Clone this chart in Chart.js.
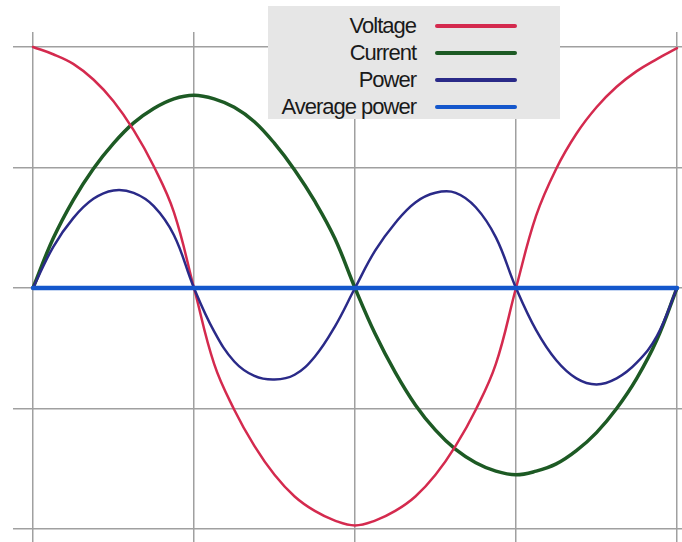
<!DOCTYPE html>
<html lang="en">
<head>
    <meta charset="UTF-8">
    <title>Voltage, current and power</title>
    <script src="https://cdn.jsdelivr.net/npm/chart.js"></script>
    <style>
        html, body { margin: 0; padding: 0; background: #fff; }
        #wrap { position: relative; width: 682px; height: 542px; }
        #legend {
            position: absolute; left: 268px; top: 6px; width: 292px; height: 113px;
            background: #e6e6e6; padding-top: 6px; box-sizing: border-box;
        }
        .row { display: flex; align-items: center; height: 27px; }
        .row span {
            width: 148px; text-align: right; color: #1a1a1a;
            font-family: "Liberation Sans", Arial, sans-serif; font-size: 22px; letter-spacing: -1px;
        }
        .row i { display: block; margin-left: 19px; width: 82px; height: 4px; border-radius: 2px; }
    </style>
</head>
<body>
    <div id="wrap">
        <canvas id="waves"></canvas>
        <div id="legend"></div>
    </div>
    <script>
        // x in grid divisions (0..4)
        const xs = [0, 0.125, 0.25, 0.375, 0.5, 0.625, 0.75, 0.875,
                    1, 1.125, 1.25, 1.375, 1.5, 1.625, 1.75, 1.875,
                    2, 2.125, 2.25, 2.375, 2.5, 2.625, 2.75, 2.875,
                    3, 3.125, 3.25, 3.375, 3.5, 3.625, 3.75, 3.875, 4];

        const voltage = [2.0, 1.94, 1.86, 1.73, 1.55, 1.31, 1.01, 0.63,
                         0, -0.63, -1.01, -1.31, -1.55, -1.73, -1.85, -1.93,
                         -1.97, -1.93, -1.85, -1.73, -1.55, -1.31, -1.01, -0.63,
                         0, 0.6, 0.99, 1.28, 1.5, 1.67, 1.8, 1.9, 1.99];

        const current = [0, 0.41, 0.73, 0.99, 1.2, 1.37, 1.49, 1.57,
                         1.6, 1.57, 1.5, 1.38, 1.2, 0.98, 0.72, 0.41,
                         0, -0.38, -0.7, -0.97, -1.18, -1.34, -1.45, -1.52,
                         -1.55, -1.52, -1.46, -1.35, -1.2, -1.0, -0.75, -0.43, 0];

        const power = [0, 0.34, 0.58, 0.74, 0.81, 0.79, 0.68, 0.44,
                       0, -0.36, -0.61, -0.73, -0.76, -0.72, -0.57, -0.32,
                       0, 0.31, 0.54, 0.71, 0.79, 0.79, 0.67, 0.42,
                       0, -0.35, -0.6, -0.75, -0.8, -0.75, -0.62, -0.4, 0];

        const avgXs = [0, 4];
        const averagePower = [0, 0];

        const yTicks = [-2, -1, 0, 1, 2];

        const toPoints = (x, y) => x.map((v, i) => ({ x: v, y: y[i] }));

        const gridColor = 'rgb(160, 160, 160)';
        const grid = (len, onArea) => ({
            color: gridColor,
            lineWidth: 1.5,
            tickLength: len,
            drawOnChartArea: onArea
        });

        const ctx = document.getElementById('waves').getContext('2d');
        const chart = new Chart(ctx, {
            type: 'line',
            data: {
                datasets: [
                    { label: 'Voltage', data: toPoints(xs, voltage), borderColor: '#d42a4e', borderWidth: 2.5, order: 2 },
                    { label: 'Current', data: toPoints(xs, current), borderColor: '#1d5a24', borderWidth: 3.5, order: 3 },
                    { label: 'Power', data: toPoints(xs, power), borderColor: '#2a2a88', borderWidth: 2.5, order: 1 },
                    { label: 'Average power', data: toPoints(avgXs, averagePower), borderColor: '#1457cc', borderWidth: 4.5, order: 0 }
                ]
            },
            options: {
                responsive: true,
                maintainAspectRatio: false,
                animation: false,
                layout: { padding: { left: 13, top: 32, right: 0, bottom: 0 } },
                elements: {
                    point: { radius: 0 },
                    line: { tension: 0.4, fill: false, borderCapStyle: 'round' }
                },
                datasets: { line: { clip: false } },
                plugins: {
                    legend: { display: false },
                    tooltip: { enabled: false }
                },
                scales: {
                    x: {
                        type: 'linear', min: 0, max: 4,
                        ticks: { stepSize: 1, display: false },
                        grid: grid(13, true),
                        border: { display: false }
                    },
                    xTop: {
                        type: 'linear', position: 'top', min: 0, max: 4,
                        ticks: { stepSize: 1, display: false },
                        grid: grid(15, false),
                        border: { display: false }
                    },
                    y: {
                        min: yTicks[0], max: yTicks[yTicks.length - 1],
                        ticks: { stepSize: 1, display: false },
                        grid: grid(20, true),
                        border: { display: false }
                    },
                    yRight: {
                        position: 'right', min: yTicks[0], max: yTicks[yTicks.length - 1],
                        ticks: { stepSize: 1, display: false },
                        grid: grid(5, false),
                        border: { display: false }
                    }
                }
            }
        });

        // legend: label on the left, line sample on the right
        const legend = document.getElementById('legend');
        chart.data.datasets.forEach(ds => {
            const row = document.createElement('div');
            row.className = 'row';
            const label = document.createElement('span');
            label.textContent = ds.label;
            const swatch = document.createElement('i');
            swatch.style.background = ds.borderColor;
            row.appendChild(label);
            row.appendChild(swatch);
            legend.appendChild(row);
        });
    </script>
</body>
</html>
